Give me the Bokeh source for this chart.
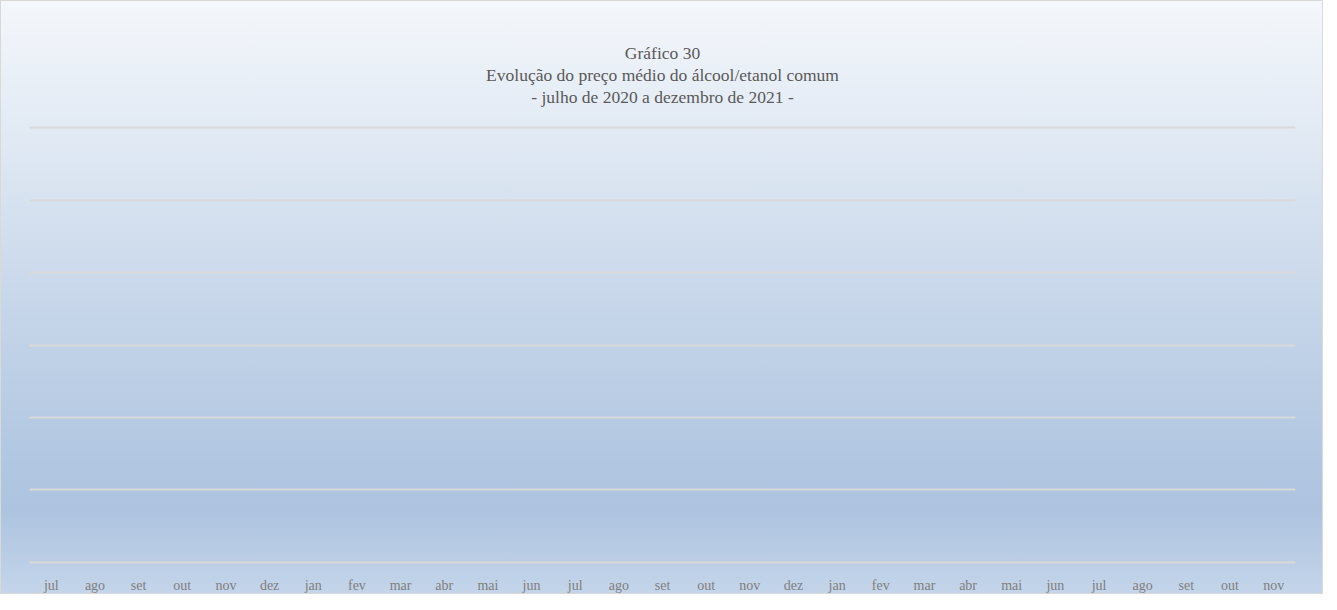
from bokeh.plotting import figure
from bokeh.models import Range1d, Grid, FixedTicker, Title
from bokeh.embed import file_html
from bokeh.resources import INLINE

# --- data -------------------------------------------------------------
meses = ["jul", "ago", "set", "out", "nov", "dez",
         "jan", "fev", "mar", "abr", "mai", "jun",
         "jul", "ago", "set", "out", "nov", "dez",
         "jan", "fev", "mar", "abr", "mai", "jun",
         "jul", "ago", "set", "out", "nov"]
posicoes = list(range(len(meses)))
y_ticks = [0, 1, 2, 3, 4, 5, 6]

titulo = ["Gráfico 30",
          "Evolução do preço médio do álcool/etanol comum",
          "- julho de 2020 a dezembro de 2021 -"]

# --- figure -----------------------------------------------------------
p = figure(
    x_range=Range1d(-0.5, len(meses) - 0.5),
    y_range=Range1d(-0.03, 6.03),
    width=1323, height=594,
    output_backend="svg", toolbar_location=None,
    y_axis_location=None,
    min_border_left=28, min_border_right=29,
    min_border_top=124, min_border_bottom=29,
    title=None,
)
p.background_fill_alpha = 0
p.border_fill_alpha = 0
p.outline_line_color = None
p.styles = {
    "background-image": "linear-gradient(to bottom, #f4f7fb 0%, #dfe8f3 25%, #c8d7ea 50%, #b3c8e2 75%, #adc3df 86%, #c4d5ea 100%)",
    "border": "1px solid #d9d9d9",
}

p.xgrid.visible = False
grid = Grid(dimension=1, ticker=FixedTicker(ticks=y_ticks),
            grid_line_color="#d9d9d9", grid_line_width=2)
p.add_layout(grid)

xa = p.xaxis[0]
xa.ticker = FixedTicker(ticks=posicoes)
xa.major_label_overrides = {i: m for i, m in zip(posicoes, meses)}
xa.axis_line_color = None
xa.major_tick_line_color = None
xa.minor_tick_line_color = None
xa.major_label_standoff = 7
xa.major_label_text_font = "Liberation Serif"
xa.major_label_text_font_size = "14px"
xa.major_label_text_color = "#7f7f7f"

# spacer between the title block and the plot area
p.add_layout(Title(text=" ", text_font_size="15px", standoff=0), "above")
for line in reversed(titulo):
    t = Title(text=line, align="center", text_font="Liberation Serif",
              text_font_size="17.5px", text_font_style="normal",
              text_color="#595959", standoff=0)
    p.add_layout(t, "above")

open("out.html", "w").write(file_html(p, INLINE))
